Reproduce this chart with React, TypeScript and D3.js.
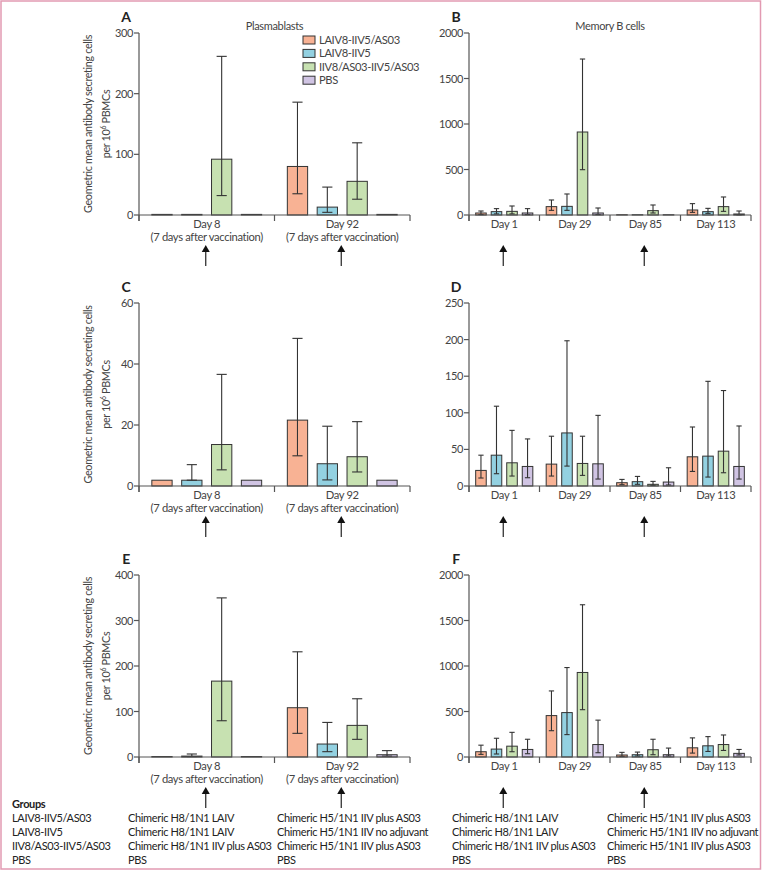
import React from "react";
import * as d3 from "d3";

const FONT = "Lato, 'Open Sans', sans-serif";
const LS = -0.35;

const seriesNames = ["LAIV8-IIV5/AS03", "LAIV8-IIV5", "IIV8/AS03-IIV5/AS03", "PBS"];
const seriesColors = ["#f8b294", "#93d1e1", "#c7e1b1", "#d0c4e3"];

const leftCategories = [["Day 8", "(7 days after vaccination)"], ["Day 92", "(7 days after vaccination)"]];
const rightCategories = [["Day 1"], ["Day 29"], ["Day 85"], ["Day 113"]];
const leftArrows = [0, 1];
const rightArrows = [0, 2];

// Panel A: plasmablasts (series x category)
const aMean = [[1, 80], [1, 13], [92, 55.5], [1, 1]];
const aLow = [[null, 35], [null, 4.4], [32, 26], [null, null]];
const aHigh = [[null, 186], [null, 46], [261.5, 119], [null, null]];
const aTicks = [0, 100, 200, 300];

// Panel B: memory B cells
const bMean = [[22, 92, 3, 55], [37, 95, 3, 37], [40, 912, 48, 92], [22, 22, 3, 11]];
const bLow = [[5, 51, null, 29], [12, 51, null, 18], [12, 498, 22, 40], [5, 5, null, 2]];
const bHigh = [[44, 165, null, 125], [70, 231, null, 73], [99, 1714, 110, 198], [70, 77, null, 44]];
const bTicks = [0, 500, 1000, 1500, 2000];

// Panel C
const cMean = [[1.9, 21.6], [1.9, 7.3], [13.6, 9.6], [1.9, 1.9]];
const cLow = [[null, 9.9], [1.9, 2.0], [5.3, 4.6], [null, null]];
const cHigh = [[null, 48.4], [7.0, 19.6], [36.6, 21.1], [null, null]];
const cTicks = [0, 20, 40, 60];

// Panel D
const dMean = [[21.3, 29.9, 4.5, 39.9], [42.1, 72.5, 5.9, 40.8], [31.7, 30.8, 2.3, 47.6], [26.7, 30.3, 5.4, 26.7]];
const dLow = [[10.9, 13.6, 1.8, 19.9], [16.8, 27.2, 2.3, 12.2], [13.6, 14.5, 0.9, 18.1], [11.3, 9.5, 1.4, 9.5]];
const dHigh = [[42.1, 68, 9, 80.6], [109, 198.4, 13.1, 143], [76, 68, 6.3, 130.4], [64.3, 96.5, 24.9, 82]];
const dTicks = [0, 50, 100, 150, 200, 250];

// Panel E
const eMean = [[1, 108.3], [2, 28.5], [166.8, 69.5], [1, 5]];
const eLow = [[null, 52], [1, 11.7], [79.7, 38.8], [null, 2]];
const eHigh = [[null, 231.2], [6.6, 76], [349.7, 128], [null, 14]];
const eTicks = [0, 100, 200, 300, 400];

// Panel F
const fMean = [[58, 455, 22, 101], [87, 488, 25, 123], [119, 929, 80, 137], [83, 137, 25, 40]];
const fLow = [[29, 289, 7, 43], [33, 246, 11, 61], [58, 520, 25, 72], [36, 47, 11, 22]];
const fHigh = [[130, 726, 51, 210], [206, 983, 54, 224], [271, 1673, 195, 242], [195, 405, 98, 83]];
const fTicks = [0, 500, 1000, 1500, 2000];

const groupRows = [
  ["Groups", "", "", "", ""],
  ["LAIV8-IIV5/AS03", "Chimeric H8/1N1 LAIV", "Chimeric H5/1N1 IIV plus AS03", "Chimeric H8/1N1 LAIV", "Chimeric H5/1N1 IIV plus AS03"],
  ["LAIV8-IIV5", "Chimeric H8/1N1 LAIV", "Chimeric H5/1N1 IIV no adjuvant", "Chimeric H8/1N1 LAIV", "Chimeric H5/1N1 IIV no adjuvant"],
  ["IIV8/AS03-IIV5/AS03", "Chimeric H8/1N1 IIV plus AS03", "Chimeric H5/1N1 IIV plus AS03", "Chimeric H8/1N1 IIV plus AS03", "Chimeric H5/1N1 IIV plus AS03"],
  ["PBS", "PBS", "PBS", "PBS", "PBS"],
];
const groupColX = [12, 128, 277, 452, 607];

const AXIS = "#555";
const TXT = "#444";
const DARK = "#333";

type PanelProps = {
  letter: string;
  title?: string;
  x0: number;
  x1: number;
  top: number;
  bottom: number;
  ticks: number[];
  categories: string[][];
  mean: number[][];
  low: (number | null)[][];
  high: (number | null)[][];
  arrows: number[];
  yTitle?: boolean;
  legend?: boolean;
};

function Panel(p: PanelProps) {
  const y = d3.scaleLinear().domain([0, p.ticks[p.ticks.length - 1]]).range([p.bottom, p.top]);
  const x = d3.scaleBand<number>().domain(p.categories.map((_, i) => i)).range([p.x0, p.x1]).padding(0);
  const inner = d3
    .scaleBand<number>()
    .domain(seriesNames.map((_, i) => i))
    .range([0, x.bandwidth()])
    .paddingInner(0.32)
    .paddingOuter(0.43);
  const bw = inner.bandwidth();
  const cap = bw * 0.5;
  const boundaries = p.categories.map((_, i) => x(i)!).concat([p.x1]);
  const cy = (p.top + p.bottom) / 2;
  return (
    <g>
      <text x={p.x0 - 13} y={p.top - 11} fontSize={14} fontWeight={700} fill="#222" textAnchor="middle">
        {p.letter}
      </text>
      {p.title && (
        <text x={(p.x0 + p.x1) / 2} y={p.top - 3} fontSize={11} fill={TXT} textAnchor="middle">
          {p.title}
        </text>
      )}
      {p.yTitle && (
        <g transform={`translate(${p.x0 - 47},${cy}) rotate(-90)`}>
          <text x={0} y={0} fontSize={10.8} fill={TXT} textAnchor="middle">
            Geometric mean antibody secreting cells
          </text>
          <text x={0} y={18} fontSize={10.8} fill={TXT} textAnchor="middle">
            per 10
            <tspan fontSize={7} dy={-4}>6</tspan>
            <tspan dy={4}> PBMCs</tspan>
          </text>
        </g>
      )}
      {/* bars */}
      {p.mean.map((row, s) =>
        row.map((v, c) => {
          const bx = x(c)! + inner(s)!;
          return (
            <rect
              key={`b${s}-${c}`}
              x={bx}
              y={y(v)}
              width={bw}
              height={Math.max(0, y(0) - y(v))}
              fill={seriesColors[s]}
              stroke={DARK}
              strokeWidth={1}
            />
          );
        })
      )}
      {/* error bars */}
      {p.mean.map((row, s) =>
        row.map((v, c) => {
          const lo = p.low[s][c];
          const hi = p.high[s][c];
          if (lo == null || hi == null) return null;
          const cx = x(c)! + inner(s)! + bw / 2;
          return (
            <g key={`e${s}-${c}`} stroke={DARK} strokeWidth={1.1}>
              <line x1={cx} x2={cx} y1={y(lo)} y2={y(hi)} />
              <line x1={cx - cap / 2} x2={cx + cap / 2} y1={y(lo)} y2={y(lo)} />
              <line x1={cx - cap / 2} x2={cx + cap / 2} y1={y(hi)} y2={y(hi)} />
            </g>
          );
        })
      )}
      {/* y axis */}
      <line x1={p.x0} x2={p.x0} y1={p.top} y2={p.bottom + 6} stroke={AXIS} strokeWidth={1.2} />
      {p.ticks.map((t) => (
        <g key={`t${t}`}>
          <line x1={p.x0 - 5} x2={p.x0} y1={y(t)} y2={y(t)} stroke={AXIS} strokeWidth={1.2} />
          <text x={p.x0 - 6} y={y(t) + 4} fontSize={11} fill={TXT} textAnchor="end">
            {t}
          </text>
        </g>
      ))}
      {/* x axis */}
      <line x1={p.x0} x2={p.x1} y1={p.bottom} y2={p.bottom} stroke={AXIS} strokeWidth={1.2} />
      {boundaries.map((bx, i) => (
        <line key={`xb${i}`} x1={bx} x2={bx} y1={p.bottom} y2={p.bottom + 6} stroke={AXIS} strokeWidth={1.2} />
      ))}
      {p.categories.map((lines, c) =>
        lines.map((ln, k) => (
          <text
            key={`cl${c}-${k}`}
            x={x(c)! + x.bandwidth() / 2}
            y={p.bottom + 12.5 + k * 13}
            fontSize={11.2}
            fill={TXT}
            textAnchor="middle"
          >
            {ln}
          </text>
        ))
      )}
      {/* arrows */}
      {p.arrows.map((c) => {
        const ax = x(c)! + x.bandwidth() / 2 - 1;
        const tip = p.bottom + 30;
        return (
          <g key={`a${c}`}>
            <line x1={ax} x2={ax} y1={tip + 5} y2={p.bottom + 51} stroke="#222" strokeWidth={1.2} />
            <path d={`M${ax},${tip} L${ax - 4},${tip + 7} L${ax + 4},${tip + 7} Z`} fill="#111" />
          </g>
        );
      })}
      {/* legend */}
      {p.legend &&
        seriesNames.map((n, s) => (
          <g key={`lg${s}`} transform={`translate(303,${40 + s * 13.4})`}>
            <rect x={0} y={-4} width={12} height={8} fill={seriesColors[s]} stroke={DARK} strokeWidth={1} />
            <text x={16} y={4} fontSize={11.2} fill={TXT}>
              {n}
            </text>
          </g>
        ))}
    </g>
  );
}

export default function App() {
  const L = { x0: 139, x1: 410 };
  const R = { x0: 469, x1: 751 };
  return (
    <svg
      width={763}
      height={873}
      style={{ position: "absolute", left: 0, top: 0, background: "#fff", letterSpacing: LS }}
      fontFamily={FONT}
    >
      <rect x={1} y={1} width={759.5} height={868} fill="#fff" stroke="#e29ab2" strokeWidth={1.5} />
      <Panel letter="A" title="Plasmablasts" {...L} top={33} bottom={215} ticks={aTicks} categories={leftCategories}
        mean={aMean} low={aLow} high={aHigh} arrows={leftArrows} yTitle legend />
      <Panel letter="B" title="Memory B cells" {...R} top={33} bottom={215} ticks={bTicks} categories={rightCategories}
        mean={bMean} low={bLow} high={bHigh} arrows={rightArrows} />
      <Panel letter="C" {...L} top={303} bottom={486} ticks={cTicks} categories={leftCategories}
        mean={cMean} low={cLow} high={cHigh} arrows={leftArrows} yTitle />
      <Panel letter="D" {...R} top={303} bottom={486} ticks={dTicks} categories={rightCategories}
        mean={dMean} low={dLow} high={dHigh} arrows={rightArrows} />
      <Panel letter="E" {...L} top={575} bottom={757} ticks={eTicks} categories={leftCategories}
        mean={eMean} low={eLow} high={eHigh} arrows={leftArrows} yTitle />
      <Panel letter="F" {...R} top={575} bottom={757} ticks={fTicks} categories={rightCategories}
        mean={fMean} low={fLow} high={fHigh} arrows={rightArrows} />
      {groupRows.map((row, r) =>
        row.map((t, c) =>
          t ? (
            <text
              key={`g${r}-${c}`}
              x={groupColX[c]}
              y={808 + r * 14}
              fontSize={11}
              fontWeight={r === 0 ? 700 : 400}
              fill="#222"
            >
              {t}
            </text>
          ) : null
        )
      )}
    </svg>
  );
}
